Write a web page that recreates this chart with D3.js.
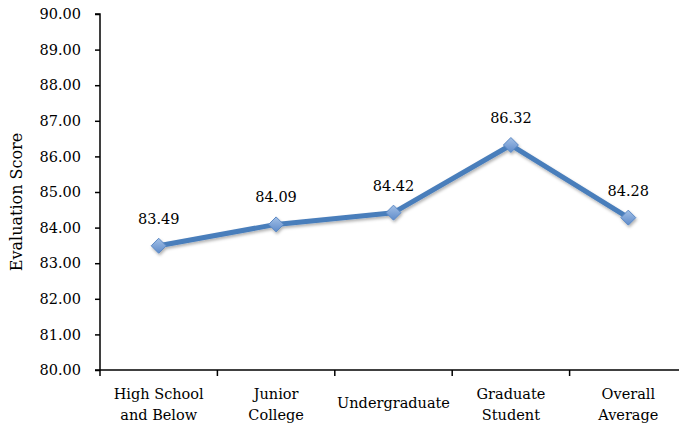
<!DOCTYPE html>
<html>
<head>
<meta charset="utf-8">
<script src="https://cdn.jsdelivr.net/npm/d3@7"></script>
<style>
  html, body { margin: 0; padding: 0; background: #fff; }
  svg text { font-family: "DejaVu Serif", "Liberation Serif", serif; fill: #000; }
</style>
</head>
<body>
<svg id="chart" width="679" height="427"></svg>
<script>
// Education level categories (multi-line labels)
const categories = [
  ["High School", "and Below"],
  ["Junior", "College"],
  ["Undergraduate"],
  ["Graduate", "Student"],
  ["Overall", "Average"]
];
const scores = [83.49, 84.09, 84.42, 86.32, 84.28];
const yTicks = [80, 81, 82, 83, 84, 85, 86, 87, 88, 89, 90];
const yTitle = "Evaluation Score";

(function draw() {
  const svg = d3.select("#chart");
  const plotLeft = 100, plotRight = 687, plotTop = 14, plotBottom = 370;
  const keys = categories.map((c, i) => i);

  const x = d3.scaleBand().domain(keys).range([plotLeft, plotRight]);
  const y = d3.scaleLinear().domain([80, 90]).range([plotBottom, plotTop]);

  // Soft shadow under the series
  const defs = svg.append("defs");
  const f = defs.append("filter").attr("id", "shadow")
    .attr("x", "-20%").attr("y", "-20%").attr("width", "140%").attr("height", "140%");
  f.append("feDropShadow").attr("dx", 1).attr("dy", 2).attr("stdDeviation", 1.5)
    .attr("flood-color", "#000").attr("flood-opacity", 0.3);
  const grad = defs.append("linearGradient").attr("id", "diamondFill")
    .attr("x1", 0).attr("y1", 0).attr("x2", 0).attr("y2", 1);
  grad.append("stop").attr("offset", "0%").attr("stop-color", "#a3c0e6");
  grad.append("stop").attr("offset", "100%").attr("stop-color", "#5e8bca");

  // Y axis
  const yAxis = d3.axisLeft(y).tickValues(yTicks).tickFormat(d3.format(".2f"))
    .tickSize(5).tickPadding(14);
  const gy = svg.append("g").attr("transform", `translate(${plotLeft},0)`).call(yAxis);
  gy.select(".domain").attr("stroke", "#000").attr("stroke-width", 1.5)
    .attr("d", `M-5,${plotTop}H0V${plotBottom}`);
  gy.selectAll(".tick line").attr("stroke", "#000").attr("stroke-width", 1.5);
  gy.selectAll(".tick text").attr("font-size", 14.5).attr("fill", "#000")
    .style("font-family", "DejaVu Serif");

  // X axis with boundary ticks between categories
  const gx = svg.append("g").attr("transform", `translate(0,${plotBottom})`);
  gx.append("line").attr("x1", plotLeft - 5).attr("x2", plotRight).attr("y1", 0).attr("y2", 0)
    .attr("stroke", "#000").attr("stroke-width", 1.5);
  const bounds = keys.map(k => x(k));
  gx.selectAll("line.tk").data(bounds).join("line").attr("class", "tk")
    .attr("x1", d => d).attr("x2", d => d).attr("y1", 0).attr("y2", 6)
    .attr("stroke", "#000").attr("stroke-width", 1.5);

  const lbl = gx.selectAll("text.cat").data(categories).join("text").attr("class", "cat")
    .attr("text-anchor", "middle").attr("font-size", 14.5)
    .attr("transform", (d, i) => `translate(${x(i) + x.bandwidth() / 2},0)`);
  lbl.each(function(lines) {
    const t = d3.select(this);
    const y0 = lines.length === 1 ? 38 : 29;
    lines.forEach((s, j) => t.append("tspan").attr("x", 0).attr("y", y0 + j * 21).text(s));
  });

  // Y axis title
  svg.append("text").attr("font-size", 16).attr("text-anchor", "middle")
    .attr("transform", `translate(22,${(plotTop + plotBottom) / 2 + 10}) rotate(-90)`)
    .text(yTitle);

  // Series line and diamond markers
  const cx = i => x(i) + x.bandwidth() / 2;
  const line = d3.line().x((d, i) => cx(i)).y(d => y(d));
  const series = svg.append("g").attr("filter", "url(#shadow)");
  series.append("path").datum(scores).attr("d", line)
    .attr("fill", "none").attr("stroke", "#4a7ebb").attr("stroke-width", 5)
    .attr("stroke-linejoin", "round");
  const r = 7.5;
  series.selectAll("path.mk").data(scores).join("path").attr("class", "mk")
    .attr("d", `M0,${-r}L${r},0L0,${r}L${-r},0Z`)
    .attr("transform", (d, i) => `translate(${cx(i)},${y(d)})`)
    .attr("fill", "url(#diamondFill)").attr("stroke", "#5a88c4").attr("stroke-width", 1);

  // Value labels
  svg.selectAll("text.val").data(scores).join("text").attr("class", "val")
    .attr("text-anchor", "middle").attr("font-size", 14.5)
    .attr("x", (d, i) => cx(i)).attr("y", d => y(d) - 22)
    .text(d => d.toFixed(2));
})();
</script>
</body>
</html>
